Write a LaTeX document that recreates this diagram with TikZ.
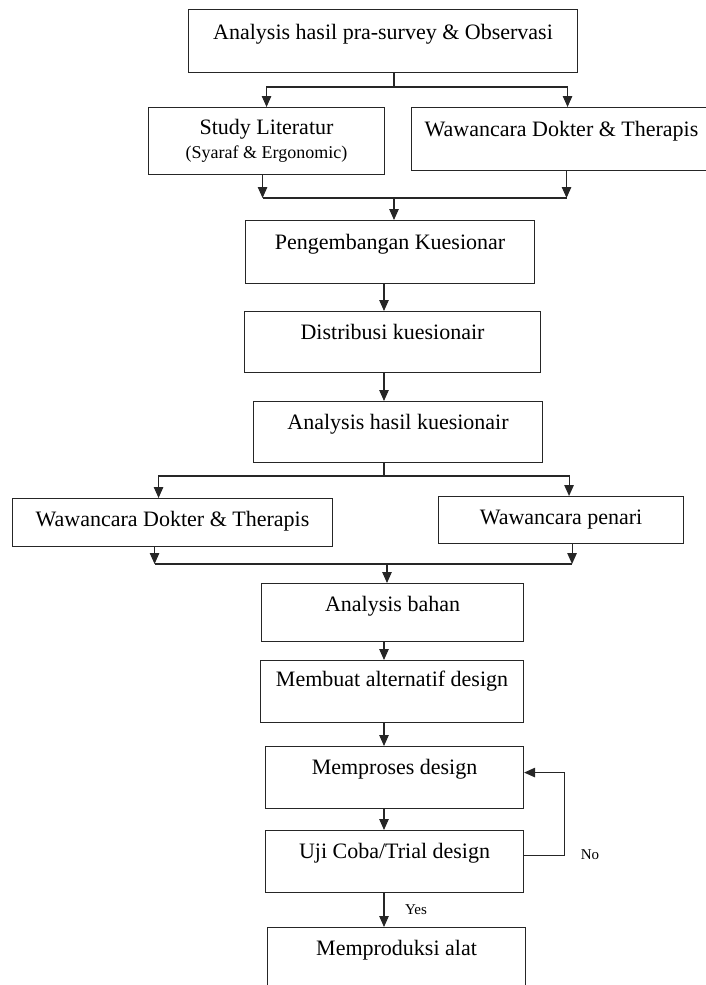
\documentclass[tikz,border=0pt]{standalone}
\usepackage{fontspec}
\setmainfont{Liberation Serif}
\usetikzlibrary{arrows.meta}

\begin{document}
\begin{tikzpicture}[x=1pt, y=-1pt, font=\fontsize{22}{24}\selectfont, line join=miter, >={Triangle[length=11pt,width=9.5pt]},
    box/.style={draw=black!85, rectangle, anchor=north west, inner sep=0pt, line width=1.1pt},
    link/.style={draw=black!85, line width=1.1pt},
    lbl/.style={font=\fontsize{15}{17}\selectfont, inner sep=0pt}]
    \def\xa{384} \def\xb{394}
    \useasboundingbox (0,0) rectangle (705,985);
    % boxes
    \node[box, minimum width=389pt, text height=30pt, text depth=33pt] (b1) at (188,9) {Analysis hasil pra-survey \& Observasi};
    \node[box, minimum width=236pt, minimum height=67pt, align=center] (b2) at (148,107) {Study Literatur\\{\fontsize{18}{20}\selectfont (Syaraf \& Ergonomic)}};
    \node[box, minimum width=300pt, text height=29pt, text depth=34pt] (b3) at (411,107) {Wawancara Dokter \& Therapis};
    \node[box, minimum width=289pt, text height=29pt, text depth=34pt] (b4) at (245,220) {Pengembangan Kuesionar};
    \node[box, minimum width=296pt, text height=28pt, text depth=33pt] (b5) at (244,311) {Distribusi kuesionair};
    \node[box, minimum width=289pt, text height=28pt, text depth=33pt] (b6) at (253,401) {Analysis hasil kuesionair};
    \node[box, minimum width=320pt, text height=28pt, text depth=20pt] (b7) at (12,498) {Wawancara Dokter \& Therapis};
    \node[box, minimum width=245pt, text height=28pt, text depth=19pt] (b8) at (438,496) {Wawancara penari};
    \node[box, minimum width=262pt, text height=28pt, text depth=30pt] (b9) at (261,583) {Analysis bahan};
    \node[box, minimum width=263pt, text height=26pt, text depth=36pt] (b10) at (260,660) {Membuat alternatif design};
    \node[box, minimum width=258pt, text height=28pt, text depth=34pt] (b11) at (265,746) {Memproses design};
    \node[box, minimum width=258pt, text height=28pt, text depth=34pt] (b12) at (265,830) {Uji Coba/Trial design};
    \node[box, minimum width=258pt, text height=28pt, text depth=80pt] (b13) at (267,927) {Memproduksi alat};
    \node[lbl] (lno) at (590,855) {No};
    \node[lbl] (lyes) at (416,910) {Yes};
    % split and join points
    \coordinate (sp1) at (\xb,87);
    \coordinate (jn1) at (\xb,198);
    \coordinate (sp2) at (\xa,476);
    \coordinate (jn2) at (387,564);
    % top branch
    \draw[link] (sp1 |- b1.south) -- (sp1);
    \draw[link,->] (sp1) -| (b2.north);
    \draw[link,->] (sp1) -| ([xshift=6pt]b3.north);
    \draw[link,->] ([xshift=-4pt]b2.south) -- ([xshift=-4pt]b2.south |- jn1);
    \draw[link,->] ([xshift=5pt]b3.south) -- ([xshift=5pt]b3.south |- jn1);
    \draw[link] ([xshift=-4pt]b2.south |- jn1) -- ([xshift=5pt]b3.south |- jn1);
    \draw[link,->] (jn1) -- (jn1 |- b4.north);
    % middle column
    \draw[link,->] (b4.south -| \xa,0) -- (b5.north -| \xa,0);
    \draw[link,->] (b5.south -| \xa,0) -- (b6.north -| \xa,0);
    % second branch
    \draw[link] (sp2 |- b6.south) -- (sp2);
    \draw[link,->] (sp2) -| ([xshift=-14pt]b7.north);
    \draw[link,->] (sp2) -| ([xshift=8pt]b8.north);
    \draw[link,->] ([xshift=-18pt]b7.south) -- ([xshift=-18pt]b7.south |- jn2);
    \draw[link,->] ([xshift=11pt]b8.south) -- ([xshift=11pt]b8.south |- jn2);
    \draw[link] ([xshift=-18pt]b7.south |- jn2) -- ([xshift=11pt]b8.south |- jn2);
    \draw[link,->] (jn2) -- (jn2 |- b9.north);
    % lower column
    \draw[link,->] (b9.south -| \xa,0) -- (b10.north -| \xa,0);
    \draw[link,->] (b10.south -| \xa,0) -- (b11.north -| \xa,0);
    \draw[link,->] (b11.south -| \xa,0) -- (b12.north -| \xa,0);
    \draw[link,->] (b12.south -| \xa,0) -- (b13.north -| \xa,0);
    % loop back
    \draw[link,->] ([yshift=6pt]b12.east) -- ++(40,0) |- ([yshift=5pt]b11.east);
\end{tikzpicture}
\end{document}
